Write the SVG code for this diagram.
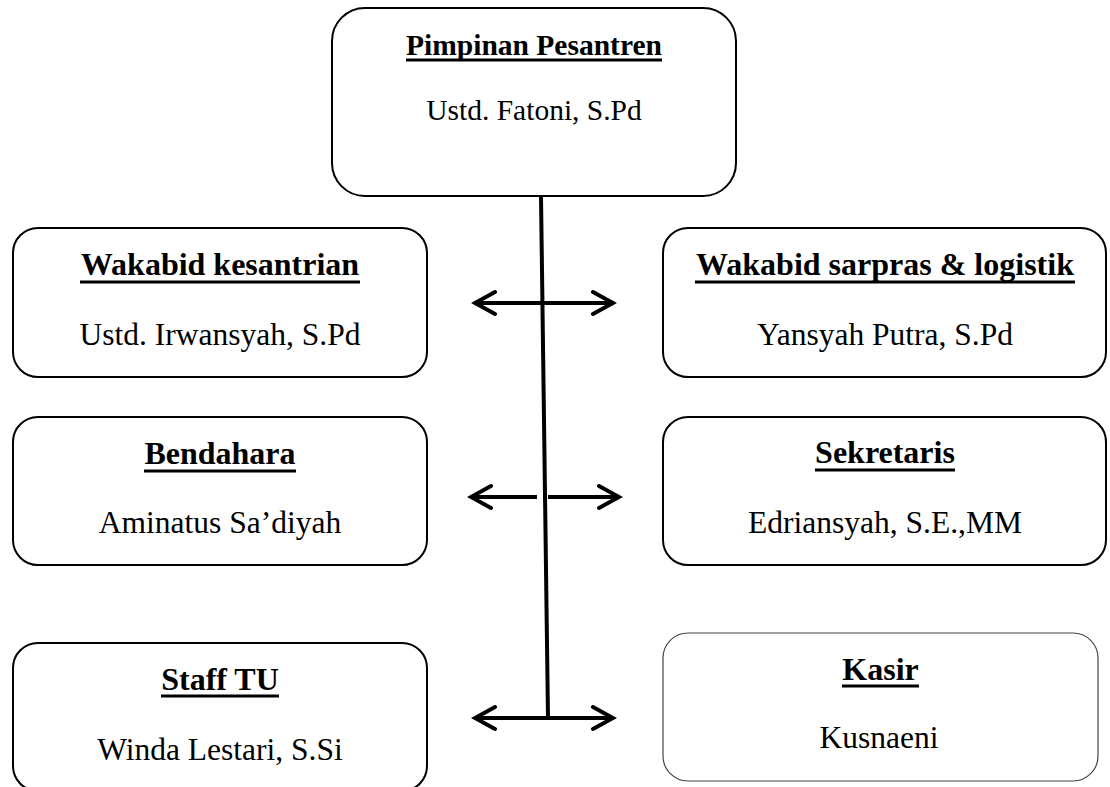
<svg xmlns="http://www.w3.org/2000/svg" width="1110" height="787" viewBox="0 0 1110 787">
<style>
.box{fill:#fff;stroke:#000;stroke-width:2}
.box2{fill:#fff;stroke:#444;stroke-width:1.2}
.t{font-family:"Liberation Serif","Times New Roman",serif;font-weight:bold;font-size:32px;text-anchor:middle;fill:#000}
.s{font-family:"Liberation Serif","Times New Roman",serif;font-size:31.5px;text-anchor:middle;fill:#000}
.u{stroke:#000;stroke-width:3}
.c{stroke:#000;stroke-width:4;fill:none}
</style>
<defs>
<marker id="ah" viewBox="-24 -14 28 28" refX="0" refY="0" markerWidth="28" markerHeight="28" markerUnits="userSpaceOnUse" orient="auto-start-reverse">
<path d="M-20,-11 L0,0 L-20,11" fill="none" stroke="#000" stroke-width="4" stroke-linecap="round" stroke-linejoin="miter"/>
</marker>
</defs>
<rect width="1110" height="787" fill="#fff"/>
<g id="connectors">
<line class="c" x1="541" y1="196" x2="548" y2="718"/>
<line class="c" x1="475" y1="303" x2="613" y2="303" marker-start="url(#ah)" marker-end="url(#ah)"/>
<line class="c" x1="471" y1="497" x2="537" y2="497" marker-start="url(#ah)"/>
<line class="c" x1="548" y1="497" x2="619" y2="497" marker-end="url(#ah)"/>
<line class="c" x1="475" y1="718" x2="613" y2="718" marker-start="url(#ah)" marker-end="url(#ah)"/>
</g>
<g id="pimpinan">
<rect class="box" x="332" y="8" width="404" height="188" rx="33"/>
<text class="t" x="534" y="55" style="font-size:29.5px">Pimpinan Pesantren</text>
<line class="u" x1="406" y1="60" x2="662" y2="60"/>
<text class="s" x="534" y="120" style="font-size:29.5px">Ustd. Fatoni, S.Pd</text>
</g>
<g id="wakabid-kesantrian">
<rect class="box" x="13" y="228" width="414" height="149" rx="25"/>
<text class="t" x="220" y="275">Wakabid kesantrian</text>
<line class="u" x1="80" y1="282" x2="360" y2="282"/>
<text class="s" x="220" y="345">Ustd. Irwansyah, S.Pd</text>
</g>
<g id="wakabid-sarpras">
<rect class="box" x="663" y="228" width="443" height="149" rx="25"/>
<text class="t" x="885" y="275">Wakabid sarpras &amp; logistik</text>
<line class="u" x1="695" y1="282" x2="1075" y2="282"/>
<text class="s" x="885" y="345">Yansyah Putra, S.Pd</text>
</g>
<g id="bendahara">
<rect class="box" x="13" y="417" width="414" height="148" rx="25"/>
<text class="t" x="220" y="464">Bendahara</text>
<line class="u" x1="144" y1="471" x2="296" y2="471"/>
<text class="s" x="220" y="533">Aminatus Sa’diyah</text>
</g>
<g id="sekretaris">
<rect class="box" x="663" y="417" width="443" height="148" rx="25"/>
<text class="t" x="885" y="463">Sekretaris</text>
<line class="u" x1="815" y1="470" x2="955" y2="470"/>
<text class="s" x="885" y="533">Edriansyah, S.E.,MM</text>
</g>
<g id="staff-tu">
<rect class="box" x="13" y="643" width="414" height="148" rx="25"/>
<text class="t" x="220" y="690">Staff TU</text>
<line class="u" x1="161" y1="696" x2="279" y2="696"/>
<text class="s" x="220" y="760">Winda Lestari, S.Si</text>
</g>
<g id="kasir">
<rect class="box2" x="663" y="633" width="435" height="148" rx="25"/>
<text class="t" x="880.5" y="680">Kasir</text>
<line class="u" x1="842" y1="686" x2="919" y2="686"/>
<text class="s" x="879" y="748">Kusnaeni</text>
</g>
</svg>
